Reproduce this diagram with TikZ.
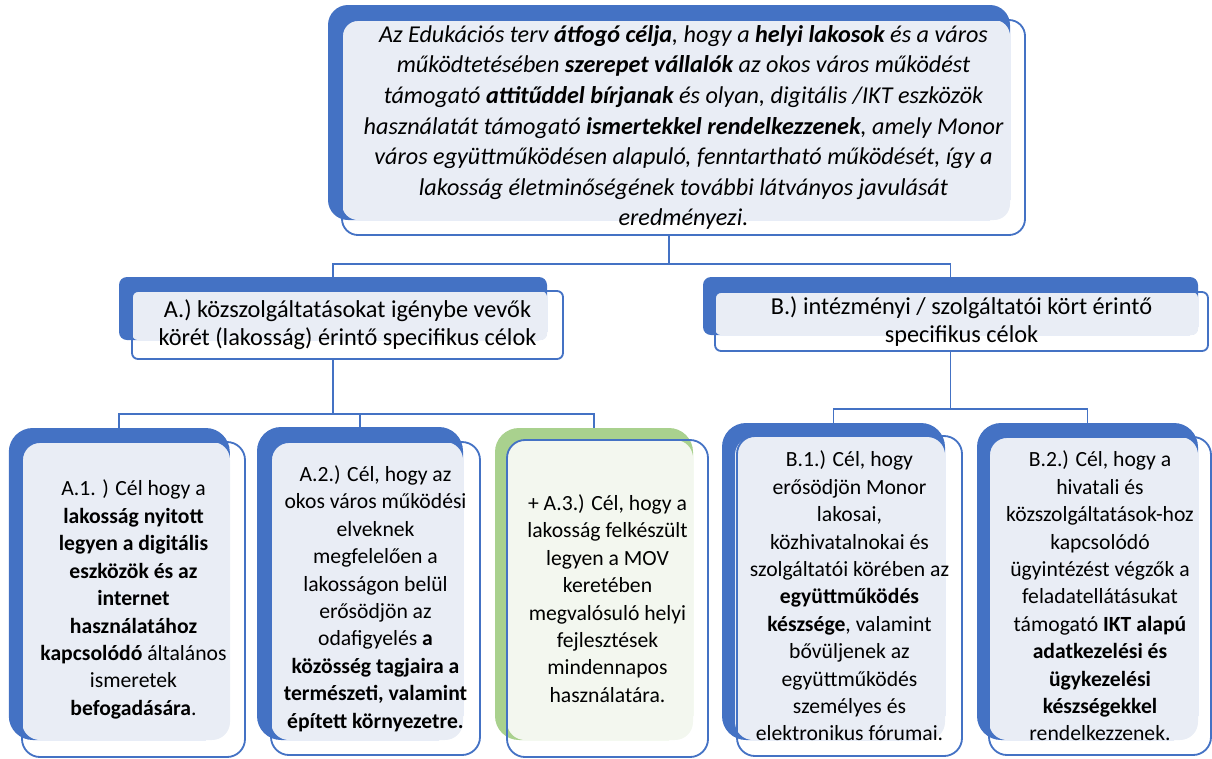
\documentclass[tikz,border=0pt]{standalone}
\usepackage{fontspec}
\setmainfont{Carlito}
\definecolor{kek}{HTML}{4472C4}
\definecolor{halvany}{HTML}{E9EDF5}
\definecolor{zold}{HTML}{A9D18E}
\definecolor{zoldhalv}{HTML}{F3F7EF}
\tikzset{
  hat/.style={fill=kek,inner sep=0pt,rounded corners=0.6cm},
  elo/.style={draw=kek,line width=1.3pt,inner sep=0pt,align=center,rounded corners=0.45cm,
    font=\fontsize{15.4}{19.5}\selectfont},
  fo/.style={font=\fontsize{17.2}{21.8}\selectfont\itshape},
  ag/.style={font=\fontsize{17.3}{20}\selectfont},
  vonal/.style={kek,line width=1.3pt},
}

\begin{document}
\begin{tikzpicture}
  \useasboundingbox (0,0) rectangle (30.3,-18.95);
  % atfogo cel
  \node[hat,rounded corners=0.5cm,minimum width=17.05cm,minimum height=5.375cm] (celh) at (16.725,-2.8125) {};
  \fill[halvany,rounded corners=0.4cm] (8.55,-0.5) rectangle (25.25,-5.5);
  \node[elo,fo,rounded corners=0.4cm,minimum width=17.075cm,minimum height=5.375cm] (cel) at (17.0875,-3.1875)
    {Az Edukációs terv \textbf{átfogó célja}, hogy a \textbf{helyi lakosok} és a város\\
     működtetésében \textbf{szerepet vállalók} az okos város működést\\
     támogató \textbf{attitűddel bírjanak} és olyan, digitális /IKT eszközök\\
     használatát támogató \textbf{ismertekkel rendelkezzenek}, amely Monor\\
     város együttműködésen alapuló, fenntartható működését, így a\\
     lakosság életminőségének további látványos javulását\\
     eredményezi.};
  % A es B
  \node[hat,rounded corners=0.2cm,minimum width=10.7cm,minimum height=1.575cm] (ah) at (8.325,-7.7125) {};
  \fill[halvany,rounded corners=0.15cm] (3.3,-7.275) rectangle (13.675,-8.5);
  \node[elo,ag,rounded corners=0.15cm,minimum width=10.775cm,minimum height=1.7cm] (a) at (8.6875,-8.125)
    {A.) közszolgáltatásokat igénybe vevők\\ körét (lakosság) érintő specifikus célok};
  \node[hat,rounded corners=0.2cm,minimum width=12.375cm,minimum height=1.45cm] (bh) at (23.7625,-7.65) {};
  \fill[halvany,rounded corners=0.15cm] (17.875,-7.3) rectangle (29.95,-8.375);
  \node[elo,ag,rounded corners=0.15cm,minimum width=12.325cm,minimum height=1.475cm] (b) at (24.0375,-8.0375)
    {B.) intézményi / szolgáltatói kört érintő\\ specifikus célok};
  % A.1
  \node[hat,minimum width=5.525cm,minimum height=7.8cm] (a1h) at (2.9825,-14.6) {};
  \fill[halvany,rounded corners=0.45cm] (0.55,-11.05) rectangle (5.75,-18.5);
  \node[elo,minimum width=5.575cm,minimum height=7.875cm] (a1) at (3.3375,-14.9875)
    {A.1. ) Cél hogy a\\ \textbf{lakosság nyitott}\\ \textbf{legyen a digitális}\\ \textbf{eszközök és az}\\
     \textbf{internet}\\ \textbf{használatához}\\ \textbf{kapcsolódó} általános\\ ismeretek\\ \textbf{befogadására}.};
  % A.2
  \node[hat,minimum width=5.15cm,minimum height=7.825cm] (a2h) at (9.0,-14.5875) {};
  \fill[halvany,rounded corners=0.45cm] (6.775,-11.05) rectangle (11.575,-18.5);
  \node[elo,minimum width=5.225cm,minimum height=7.825cm] (a2) at (9.3875,-14.9625)
    {A.2.) Cél, hogy az\\ okos város működési\\ elveknek\\ megfelelően a\\ lakosságon belül\\ erősödjön az\\
     odafigyelés \textbf{a}\\ \textbf{közösség tagjaira a}\\ \textbf{természeti, valamint}\\ \textbf{épített környezetre.}};
  % A.3
  \node[hat,fill=zold,minimum width=4.95cm,minimum height=7.8cm] (a3h) at (14.85,-14.6) {};
  \fill[zoldhalv,rounded corners=0.45cm] (12.675,-11.0) rectangle (17.325,-18.5);
  \node[elo,minimum width=5.025cm,minimum height=7.925cm] (a3) at (15.1875,-14.9625)
    {+ A.3.) Cél, hogy a\\ lakosság felkészült\\ legyen a MOV\\ keretében\\ megvalósuló helyi\\
     fejlesztések\\ mindennapos\\ használatára.};
  % B.1
  \node[hat,minimum width=5.575cm,minimum height=7.925cm] (b1h) at (20.8375,-14.5375) {};
  \fill[halvany,rounded corners=0.45cm] (18.375,-10.925) rectangle (23.625,-18.5);
  \node[elo,minimum width=5.625cm,minimum height=8.0cm] (b1) at (21.2375,-14.9)
    {B.1.) Cél, hogy\\ erősödjön Monor\\ lakosai,\\ közhivatalnokai és\\ szolgáltatói körében az\\
     \textbf{együttműködés}\\ \textbf{készsége}, valamint\\ bővüljenek az\\ együttműködés\\ személyes és\\
     elektronikus fórumai.};
  % B.2
  \node[hat,minimum width=5.525cm,minimum height=7.925cm] (b2h) at (27.1875,-14.5375) {};
  \fill[halvany,rounded corners=0.45cm] (24.725,-10.925) rectangle (29.95,-18.5);
  \node[elo,minimum width=5.55cm,minimum height=7.95cm] (b2) at (27.5,-14.9)
    {B.2.) Cél, hogy a\\ hivatali és\\ közszolgáltatások-hoz\\ kapcsolódó\\ ügyintézést végzők a\\
     feladatellátásukat\\ támogató \textbf{IKT alapú}\\ \textbf{adatkezelési és}\\ \textbf{ügykezelési}\\
     \textbf{készségekkel}\\ rendelkezzenek.};
  % vonalak
  \draw[vonal] (celh.south |- cel.south) -- ++(0,-0.7) -| (ah.north);
  \draw[vonal] (celh.south |- cel.south) -- ++(0,-0.7) -| (bh.north);
  \foreach \n in {a1h,a2h,a3h}
    \draw[vonal] (ah.south |- a.south) -- ++(0,-1.35) -| (\n.north);
  \foreach \n in {b1h,b2h}
    \draw[vonal] (bh.south |- b.south) -- ++(0,-1.425) -| (\n.north);
\end{tikzpicture}
\end{document}
